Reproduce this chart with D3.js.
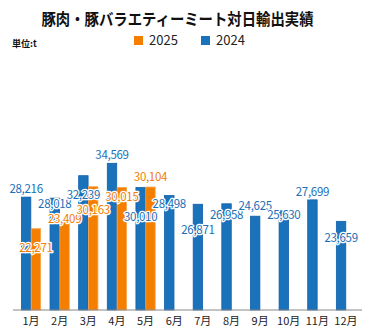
<!DOCTYPE html>
<html>
<head>
<meta charset="utf-8">
<script src="https://cdn.jsdelivr.net/npm/d3@7"></script>
<style>
  body { margin: 0; background: #fff; }
  svg text { font-family: "Noto Sans CJK JP", "Noto Sans", sans-serif; }
</style>
</head>
<body>
<div id="container"></div>
<script>
let w = 371;
let h = 334;

// data
let months = ["1月","2月","3月","4月","5月","6月","7月","8月","9月","10月","11月","12月"];
let years = ["2024", "2025"];
let values2024 = [28216, 28018, 32239, 34569, 30010, 28498, 26871, 26958, 24625, 25630, 27699, 23659];
let values2025 = [22271, 23409, 30163, 30015, 30104];

// label nudges (px below the bar top, negative = above)
let labelDy2024 = [-4, 10, 23, -4, 33, 12, 30, 15, -6, 8, -4, 21];
let labelDy2025 = [23, 0, 27, 13, -6];

let colors = { "2024": "#1a73ba", "2025": "#f47e00" };
let strokes = { "2024": "#0f5fae", "2025": "#f7a24a" };
let textColors = { "2024": "#1a6fb6", "2025": "#f07c00" };

let rows = [];
months.forEach(function(m, i){
  rows.push({ month: m, year: "2024", value: values2024[i], dy: labelDy2024[i] });
  if (i < values2025.length) {
    rows.push({ month: m, year: "2025", value: values2025[i], dy: labelDy2025[i] });
  }
});

let viz = d3.select("#container")
  .append("svg")
    .attr("width", w)
    .attr("height", h);

let baseY = 310;

let xScale = d3.scaleBand().domain(months).range([21, 356]).paddingInner(0.3).paddingOuter(0);
let x1Scale = d3.scaleBand().domain(years).range([0, xScale.bandwidth()]).padding(0.04);
let yScale = d3.scaleLinear().domain([7000, 35000]).range([baseY, 161]);

// title
viz.append("text")
    .attr("x", 177.5)
    .attr("y", 25)
    .attr("text-anchor", "middle")
    .attr("textLength", 272)
    .attr("lengthAdjust", "spacingAndGlyphs")
    .style("font-size", "16px")
    .style("font-weight", "bold")
    .style("fill", "#111")
    .text("豚肉・豚バラエティーミート対日輸出実績");

viz.append("text")
    .attr("x", 12)
    .attr("y", 47)
    .style("font-size", "9px")
    .style("font-weight", "bold")
    .style("fill", "#111")
    .text("単位:t");

// legend
let legendItems = [{ year: "2025", x: 134 }, { year: "2024", x: 201 }];
let legend = viz.selectAll(".legend").data(legendItems).enter()
  .append("g")
    .attr("class", "legend")
    .attr("transform", function(d){ return "translate(" + d.x + ",36)"; });
legend.append("rect")
    .attr("width", 9)
    .attr("height", 9)
    .attr("fill", function(d){ return colors[d.year]; });
legend.append("text")
    .attr("x", 15)
    .attr("y", 8.5)
    .style("font-size", "13px")
    .style("fill", "#222")
    .text(function(d){ return d.year; });

// bars
viz.selectAll(".bar").data(rows).enter()
  .append("rect")
    .attr("class", "bar")
    .attr("x", function(d){ return xScale(d.month) + x1Scale(d.year); })
    .attr("y", function(d){ return yScale(d.value); })
    .attr("width", x1Scale.bandwidth())
    .attr("height", function(d){ return baseY - yScale(d.value); })
    .attr("fill", function(d){ return colors[d.year]; })
    .attr("stroke", function(d){ return strokes[d.year]; })
    .attr("stroke-width", 0.8);

// axis
let xAxis = d3.axisBottom(xScale).tickSize(0).tickPadding(7);
let axisG = viz.append("g")
    .attr("transform", "translate(0," + baseY + ")")
    .call(xAxis);
axisG.select(".domain").remove();
axisG.append("line")
    .attr("x1", 13)
    .attr("x2", 362)
    .attr("stroke", "#888")
    .attr("stroke-width", 1);
axisG.selectAll(".tick text")
    .style("font-size", "11px")
    .style("fill", "#222")
    .style("font-family", "'Noto Sans CJK JP', sans-serif");

// value labels
let fmt = d3.format(",");
viz.selectAll(".vlabel").data(rows).enter()
  .append("text")
    .attr("class", "vlabel")
    .attr("x", function(d){ return xScale(d.month) + x1Scale(d.year) + x1Scale.bandwidth() / 2; })
    .attr("y", function(d){ return yScale(d.value) + d.dy; })
    .attr("text-anchor", "middle")
    .style("font-size", "11.5px")
    .style("letter-spacing", "-0.3px")
    .style("fill", function(d){ return textColors[d.year]; })
    .style("stroke", "#fff")
    .style("stroke-width", 2.5)
    .style("stroke-linejoin", "round")
    .style("paint-order", "stroke")
    .text(function(d){ return fmt(d.value); });
</script>
</body>
</html>
